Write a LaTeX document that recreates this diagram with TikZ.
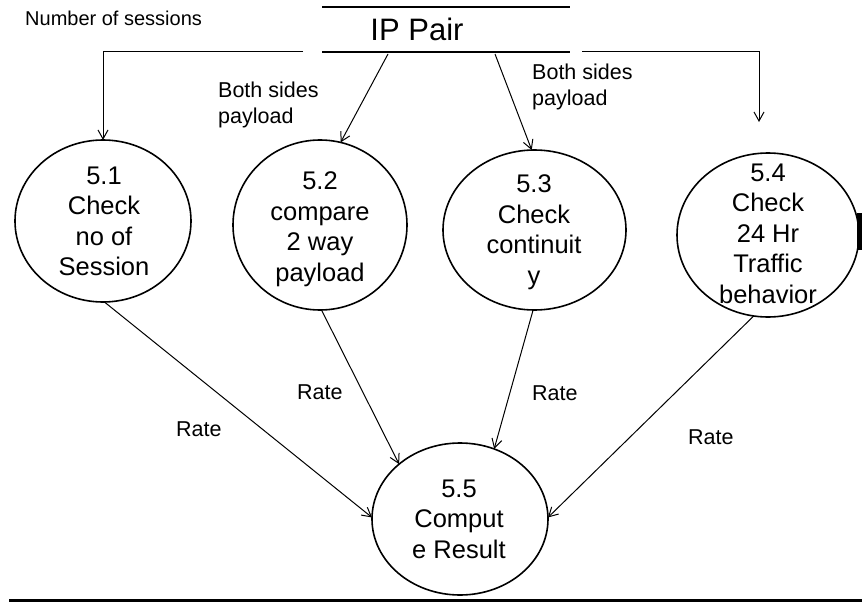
\documentclass[tikz,border=0pt]{standalone}
\usepackage{fontspec}
\setmainfont{Liberation Sans}
\usetikzlibrary{shapes.geometric,arrows.meta}

\tikzset{
  proc/.style={draw, ellipse, line width=1.6pt, inner sep=0pt, outer sep=0pt},
  proctext/.style={inner sep=0pt, anchor=north, align=center,
    font=\fontsize{25.5}{30.5}\selectfont},
  flow/.style={line width=1pt, -{Straight Barb[length=9pt,width=10pt,line width=1pt]}},
  lbl/.style={inner sep=0pt, font=\fontsize{21.5}{26.5}\selectfont},
  rule/.style={line width=1.6pt}
}

\begin{document}
\begin{tikzpicture}[x=1pt, y=-1pt]
  \useasboundingbox (0,0) rectangle (862,602);

  % data store: IP pair
  \draw[rule] (322,7) -- (570,7);
  \draw[rule] (322,52) -- (570,52);
  \node[inner sep=0pt, anchor=base, font=\fontsize{31}{36}\selectfont] (ip) at (417,41) {IP Pair};
  \coordinate (ipL) at (303,52);
  \coordinate (ipR) at (582,52);
  \coordinate (ip2) at (388,54);
  \coordinate (ip3) at (495,54);

  % processes
  \node[proc, minimum width=176pt, minimum height=162pt] (c1) at (103,221) {};
  \node[proc, minimum width=174pt, minimum height=170pt] (c2) at (320,225) {};
  \node[proc, minimum width=183pt, minimum height=160pt] (c3) at (534.5,230) {};
  \node[proc, minimum width=182pt, minimum height=164pt] (c4) at (768,235) {};
  \node[proc, minimum width=176pt, minimum height=152pt] (c5) at (460,519) {};

  \node[proctext] (t1) at (104,166.7) {5.1\\Check\\no of\\Session};
  \node[proctext] (t2) at (320,171.7) {5.2\\compare\\2 way\\payload};
  \node[proctext] (t3) at (534,174.7) {5.3\\Check\\continuit\\y};
  \node[proctext] (t4) at (768,163.7) {5.4\\Check\\24 Hr\\Traffic\\behavior};
  \node[proctext] (t5) at (459,479.7) {5.5\\Comput\\e Result};
  \coordinate (c4in) at (759,122);

  % inputs from the IP pair
  \draw[flow] (ipL) -| (c1.north);
  \draw[flow] (ipR) -| (c4in);
  \draw[flow] (ip2) -- (c2.76);
  \draw[flow] (ip3) -- (c3.92);

  % ratings to the result
  \draw[flow] (c1.-89) -- (c5.179);
  \draw[flow] (c2.-89) -- (c5.138);
  \draw[flow] (c3.-91) -- (c5.64);
  \draw[flow] (c4.-100) -- (c5.1);

  % labels
  \node[lbl, anchor=base west, font=\fontsize{20}{24}\selectfont] (nsess) at (25,26) {Number of sessions};
  \node[lbl, anchor=base west] (bs1) at (218,97) {Both sides};
  \node[lbl, anchor=base west] (bs1b) at (218,123) {payload};
  \node[lbl, anchor=base west] (bs2) at (532,79) {Both sides};
  \node[lbl, anchor=base west] (bs2b) at (532,106) {payload};
  \node[lbl, anchor=base west] (r1) at (176,436) {Rate};
  \node[lbl, anchor=base west] (r2) at (297,399) {Rate};
  \node[lbl, anchor=base west] (r3) at (532,400) {Rate};
  \node[lbl, anchor=base west] (r4) at (688,444) {Rate};

  % edge marks
  \fill (857,213) rectangle (862,250);
  \fill (9,598.5) rectangle (862,602);
\end{tikzpicture}
\end{document}
